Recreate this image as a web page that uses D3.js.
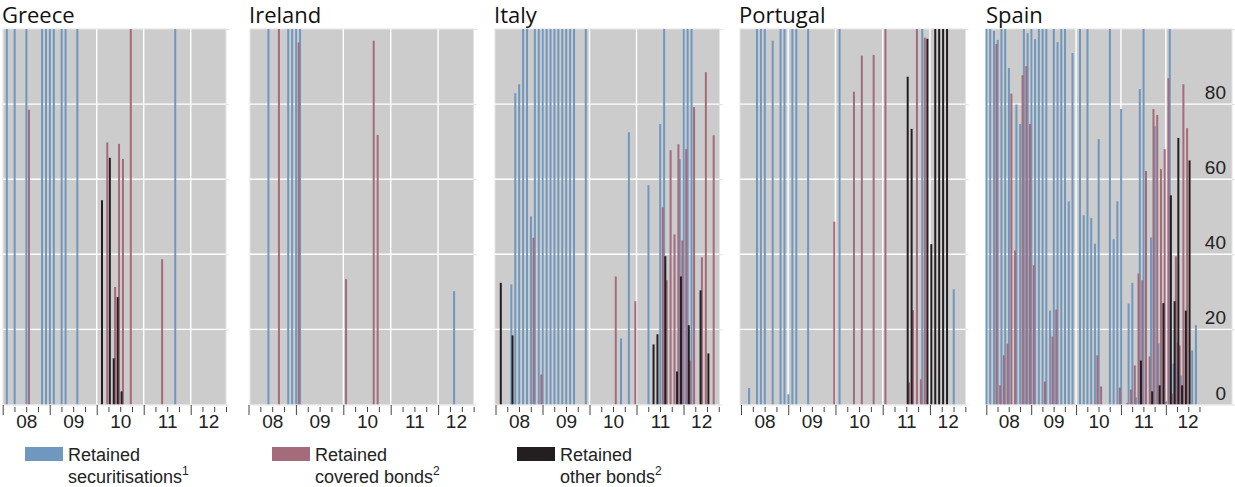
<!DOCTYPE html>
<html>
<head>
<meta charset="utf-8">
<script src="https://cdn.jsdelivr.net/npm/d3@7"></script>
<style>
  body { margin: 0; background: #fff; }
  svg { display: block; }
  .title { font-family: "Open Sans", "Noto Sans", sans-serif; font-size: 22px; fill: #111; }
  .tick-label, .legend-text { font-family: "Liberation Sans", Arial, sans-serif; fill: #222; }
</style>
</head>
<body>
<svg id="chart" width="1235" height="487"></svg>
<script>
const countries = ['Greece', 'Ireland', 'Italy', 'Portugal', 'Spain'];
const yearLabels = ['08', '09', '10', '11', '12'];
const yTicks = [0, 20, 40, 60, 80];
const seriesNames = ['Retained securitisations', 'Retained covered bonds', 'Retained other bonds'];

// share retained, per cent, by month of issuance (values above 100 are cut at the top)
const greeceSecuritisations = [['2008-02', 100], ['2008-04', 100], ['2008-07', 100], ['2008-11', 100], ['2008-12', 100],
  ['2009-01', 100], ['2009-02', 100], ['2009-04', 100], ['2009-05', 100], ['2009-08', 100], ['2011-09', 100]];
const greeceCovered = [['2008-07', 78.5], ['2010-03', 69.8], ['2010-05', 31.3], ['2010-06', 69.4], ['2010-07', 65.4],
  ['2010-09', 100], ['2011-05', 38.7]];
const greeceOther = [['2010-02', 54.4], ['2010-04', 65.7], ['2010-05', 12.3], ['2010-06', 28.6], ['2010-07', 3.5]];

const irelandSecuritisations = [['2008-06', 100], ['2008-11', 100], ['2008-12', 100], ['2009-01', 100], ['2009-02', 100],
  ['2012-05', 30.2]];
const irelandCovered = [['2008-08', 100], ['2009-01', 96.4], ['2010-01', 33.4], ['2010-08', 96.9], ['2010-09', 71.8]];
const irelandOther = [];

const italySecuritisations = [['2008-05', 32.0], ['2008-06', 82.9], ['2008-07', 85.3], ['2008-08', 100], ['2008-09', 100],
  ['2008-10', 50.1], ['2008-11', 100], ['2008-12', 100], ['2009-01', 100], ['2009-02', 100], ['2009-03', 100],
  ['2009-04', 100], ['2009-05', 100], ['2009-06', 100], ['2009-07', 100], ['2009-08', 100], ['2009-09', 100],
  ['2009-12', 100], ['2010-09', 17.6], ['2010-11', 72.5], ['2011-04', 58.4], ['2011-07', 74.7], ['2011-08', 100],
  ['2011-12', 65.3], ['2012-01', 100], ['2012-02', 100], ['2012-03', 100]];
const italyCovered = [['2008-10', 44.4], ['2008-12', 8.0], ['2010-07', 34.1], ['2010-12', 27.5], ['2011-07', 52.5],
  ['2011-08', 33.1], ['2011-09', 67.7], ['2011-10', 45.3], ['2011-11', 69.3], ['2011-12', 43.7], ['2012-01', 68.0],
  ['2012-02', 11.7], ['2012-03', 79.2], ['2012-05', 39.2], ['2012-06', 88.5], ['2012-08', 71.7]];
const italyOther = [['2008-02', 32.4], ['2008-05', 18.4], ['2011-05', 16.0], ['2011-06', 18.7], ['2011-08', 39.5],
  ['2011-11', 8.8], ['2011-12', 34.1], ['2012-02', 21.1], ['2012-05', 30.4], ['2012-07', 13.6]];

const portugalSecuritisations = [['2008-03', 4.4], ['2008-05', 100], ['2008-06', 100], ['2008-07', 100], ['2008-09', 96.9],
  ['2008-11', 100], ['2008-12', 100], ['2009-01', 2.7], ['2009-02', 100], ['2009-03', 100], ['2009-06', 100],
  ['2010-02', 100], ['2011-11', 100], ['2012-07', 30.7]];
const portugalCovered = [['2009-12', 48.7], ['2010-05', 83.3], ['2010-07', 92.9], ['2010-10', 93.1], ['2011-01', 100],
  ['2011-07', 5.9], ['2011-08', 25.1], ['2011-09', 100], ['2011-10', 6.7], ['2011-11', 97.7]];
const portugalOther = [['2011-07', 87.3], ['2011-08', 73.4], ['2011-12', 97.4], ['2012-01', 42.7], ['2012-02', 100],
  ['2012-03', 100], ['2012-04', 100], ['2012-05', 100]];

const spainSecuritisations = [['2008-01', 100], ['2008-02', 100], ['2008-03', 99.5], ['2008-04', 97.1], ['2008-05', 100],
  ['2008-06', 100], ['2008-07', 89.6], ['2008-09', 79.9], ['2008-10', 74.7], ['2008-11', 100], ['2008-12', 98.9],
  ['2009-01', 100], ['2009-02', 97.3], ['2009-03', 100], ['2009-04', 100], ['2009-05', 100], ['2009-06', 25.0],
  ['2009-07', 100], ['2009-08', 96.5], ['2009-09', 100], ['2009-10', 100], ['2009-11', 54.1], ['2009-12', 93.6],
  ['2010-02', 100], ['2010-03', 50.4], ['2010-04', 100], ['2010-05', 49.7], ['2010-06', 42.8], ['2010-07', 70.7],
  ['2010-10', 100], ['2010-11', 44.0], ['2010-12', 54.1], ['2011-01', 78.7], ['2011-03', 26.9], ['2011-04', 32.4],
  ['2011-05', 1.9], ['2011-06', 84.0], ['2011-07', 100], ['2011-09', 44.5], ['2011-10', 74.1], ['2011-11', 16.3],
  ['2012-01', 0.8], ['2012-02', 100], ['2012-03', 10.9], ['2012-04', 16.5], ['2012-05', 7.7], ['2012-08', 14.4],
  ['2012-09', 21.1]];
const spainCovered = [['2008-03', 96.0], ['2008-04', 5.1], ['2008-05', 13.1], ['2008-06', 16.2], ['2008-07', 82.8],
  ['2008-08', 41.0], ['2008-10', 87.7], ['2008-11', 90.1], ['2008-12', 74.7], ['2009-01', 37.1], ['2009-04', 6.1],
  ['2009-06', 18.1], ['2009-07', 25.3], ['2010-06', 13.1], ['2010-07', 4.8], ['2010-12', 4.5], ['2011-02', 0.4],
  ['2011-03', 4.0], ['2011-04', 10.4], ['2011-05', 34.9], ['2011-06', 33.1], ['2011-07', 62.2], ['2011-08', 12.8],
  ['2011-09', 78.7], ['2011-10', 77.1], ['2011-11', 62.7], ['2011-12', 68.0], ['2012-01', 86.9], ['2012-02', 2.9],
  ['2012-03', 39.5], ['2012-04', 15.7], ['2012-05', 85.3], ['2012-06', 73.6]];
const spainOther = [['2011-06', 11.7], ['2011-09', 3.5], ['2011-11', 5.1], ['2011-12', 27.0], ['2012-02', 55.7],
  ['2012-03', 27.5], ['2012-04', 71.0], ['2012-05', 5.1], ['2012-06', 25.0], ['2012-07', 65.0]];

const countrySeries = {
  Greece: [greeceSecuritisations, greeceCovered, greeceOther],
  Ireland: [irelandSecuritisations, irelandCovered, irelandOther],
  Italy: [italySecuritisations, italyCovered, italyOther],
  Portugal: [portugalSecuritisations, portugalCovered, portugalOther],
  Spain: [spainSecuritisations, spainCovered, spainOther]
};

const colors = ['#7097bd', '#a46b7b', '#231f20'];
// position of each series inside its month slot
const slotOffset = [0.05, 0.7, 0.35];
const monthCount = 57; // Jan 2008 - Sep 2012

// panel geometry: start of time axis, width of a month, plot box, where the "12" label sits
const panels = [
  {x0: 2.7, mw: 3.917, left: 3, right: 226, lastLabel: 52.5},
  {x0: 248.5, mw: 3.95, left: 250, right: 473.5, lastLabel: 52.5},
  {x0: 495.5, mw: 3.917, left: 495, right: 719.5, lastLabel: 52.5},
  {x0: 741, mw: 3.936, left: 740, right: 965.5, lastLabel: 52.5},
  {x0: 986.3, mw: 3.74, left: 987, right: 1232, lastLabel: 53.8}
];

const plotTop = 29;
const plotBottom = 404.5;

const svg = d3.select('#chart');
const y = d3.scaleLinear().domain([0, 100]).range([plotBottom, plotTop]);

function monthIndex(s) {
  const [yr, mo] = s.split('-').map(Number);
  return (yr - 2008) * 12 + (mo - 1);
}

countries.forEach((country, i) => {
  const p = panels[i];
  const x = d3.scaleLinear().domain([0, monthCount]).range([p.x0, p.x0 + monthCount * p.mw]);
  const g = svg.append('g');

  g.append('text')
    .attr('class', 'title')
    .attr('x', p.left - 1)
    .attr('y', 23)
    .text(country);

  g.append('rect')
    .attr('x', p.left)
    .attr('y', plotTop)
    .attr('width', p.right - p.left)
    .attr('height', plotBottom - plotTop)
    .attr('fill', '#cccccc')
    .attr('stroke', '#e4e4e4')
    .attr('stroke-width', 1);

  // grid
  g.selectAll('.hgrid')
    .data(yTicks.filter(d => d > 0))
    .enter()
    .append('line')
    .attr('x1', p.left)
    .attr('x2', p.right)
    .attr('y1', d => y(d))
    .attr('y2', d => y(d))
    .attr('stroke', '#fff')
    .attr('stroke-width', 1.4);

  g.selectAll('.vgrid')
    .data([12, 24, 36, 48])
    .enter()
    .append('line')
    .attr('x1', d => x(d))
    .attr('x2', d => x(d))
    .attr('y1', plotTop)
    .attr('y2', plotBottom)
    .attr('stroke', '#fff')
    .attr('stroke-width', 1.4);

  // small ticks on the right edge
  g.append('g')
    .attr('transform', `translate(${p.right},0)`)
    .call(d3.axisRight(y).tickValues([0, 20, 40, 60, 80, 100]).tickSize(3).tickFormat(''))
    .call(a => a.select('.domain').remove())
    .selectAll('line').attr('stroke', '#e0e0e0');

  // bars
  countrySeries[country].forEach((series, s) => {
    g.selectAll(null)
      .data(series)
      .enter()
      .append('rect')
      .attr('x', d => x(monthIndex(d[0]) + slotOffset[s]) - 1)
      .attr('y', d => y(Math.min(d[1], 100)))
      .attr('width', 2)
      .attr('height', d => plotBottom - y(Math.min(d[1], 100)))
      .attr('fill', colors[s]);
  });

  // x axis: years, quarters, labels
  const axisY = plotBottom + 0.5;
  g.append('line')
    .attr('x1', p.left)
    .attr('x2', p.right)
    .attr('y1', axisY)
    .attr('y2', axisY)
    .attr('stroke', '#e4e4e4');

  g.append('g')
    .attr('transform', `translate(0,${axisY})`)
    .call(d3.axisBottom(x).tickValues([0, 12, 24, 36, 48]).tickSize(10).tickFormat(''))
    .call(a => a.select('.domain').remove())
    .selectAll('line').attr('stroke', '#444');

  g.append('g')
    .attr('transform', `translate(0,${axisY + 2})`)
    .call(d3.axisBottom(x).tickValues(d3.range(3, monthCount + 1, 3).filter(d => d % 12 !== 0)).tickSize(5).tickFormat(''))
    .call(a => a.select('.domain').remove())
    .selectAll('line').attr('stroke', '#444');

  g.append('g')
    .attr('transform', `translate(0,${axisY})`)
    .call(d3.axisBottom(x).tickValues([6, 18, 30, 42, p.lastLabel]).tickSize(0).tickPadding(10)
      .tickFormat((d, k) => yearLabels[k]))
    .call(a => a.select('.domain').remove())
    .selectAll('text')
    .attr('class', 'tick-label')
    .attr('font-size', 19)
    .attr('fill', '#222');

  // y labels only on the last panel, inside the plot
  if (i === countries.length - 1) {
    g.selectAll('.ylab')
      .data(yTicks)
      .enter()
      .append('text')
      .attr('class', 'tick-label')
      .attr('x', 1226)
      .attr('y', d => y(d) - 5)
      .attr('text-anchor', 'end')
      .attr('font-size', 19)
      .text(d => d);
  }
});

// legend
const legendItems = [
  {lines: ['Retained', 'securitisations'], sup: '1', x: 25},
  {lines: ['Retained', 'covered bonds'], sup: '2', x: 272},
  {lines: ['Retained', 'other bonds'], sup: '2', x: 517}
];

const legend = svg.append('g');
legendItems.forEach((item, k) => {
  const lg = legend.append('g').attr('transform', `translate(${item.x},0)`);
  lg.append('rect')
    .attr('x', 0)
    .attr('y', 447)
    .attr('width', 38)
    .attr('height', 14)
    .attr('fill', colors[k]);
  lg.append('text')
    .attr('class', 'legend-text')
    .attr('x', 43)
    .attr('y', 461)
    .attr('font-size', 18)
    .text(item.lines[0]);
  const t2 = lg.append('text')
    .attr('class', 'legend-text')
    .attr('x', 43)
    .attr('y', 483)
    .attr('font-size', 18)
    .text(item.lines[1]);
  t2.append('tspan')
    .attr('dy', -8)
    .attr('font-size', 12)
    .text(item.sup);
});
</script>
</body>
</html>
